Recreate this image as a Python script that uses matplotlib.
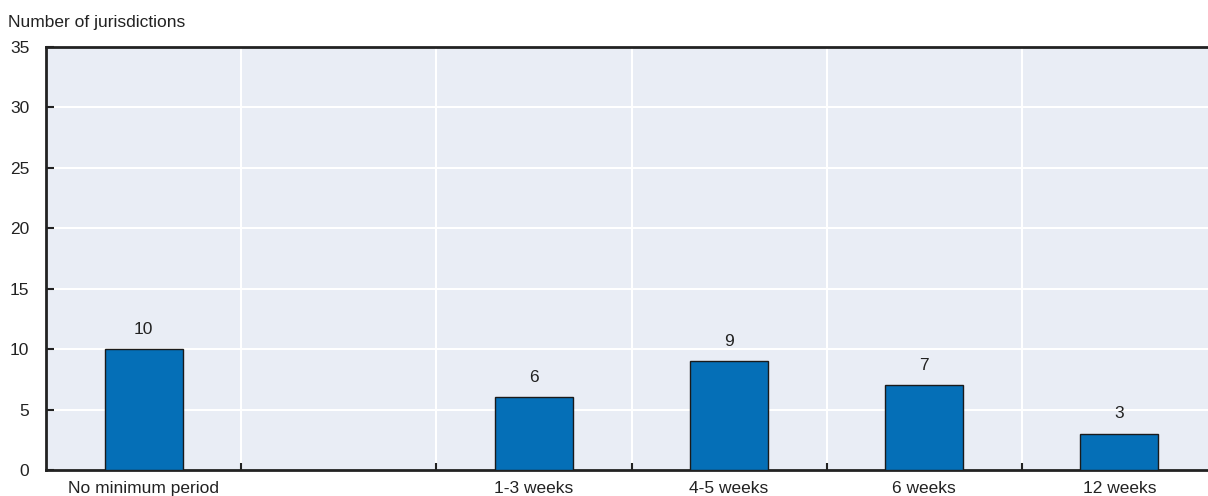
import matplotlib.pyplot as plt
import numpy as np

plt.rcParams['font.family'] = ['Liberation Sans Narrow', 'Liberation Sans', 'DejaVu Sans']

categories = ["No minimum period", "", "1-3 weeks", "4-5 weeks", "6 weeks", "12 weeks"]
counts = [10, None, 6, 9, 7, 3]
y_ticks = [0, 5, 10, 15, 20, 25, 30, 35]

bar_color = "#056fb7"
bg_color = "#e9edf5"
text_color = "#222222"

fig = plt.figure(figsize=(12.08, 4.96), dpi=100)
W, H = 1208, 496
ax = fig.add_axes([46 / W, 1 - 470 / H, (1217 - 46) / W, (470 - 47) / H])
ax.set_facecolor(bg_color)

x = np.arange(len(categories))
for xi, v in zip(x, counts):
    if v is None:
        continue
    ax.bar(xi, v, width=0.4, color=bar_color, edgecolor="#1a1a1a", linewidth=1.0, zorder=3)
    ax.annotate(str(v), (xi, v), xytext=(0, 9), textcoords="offset points",
                ha="center", va="bottom", fontsize=12.5, color=text_color)

ax.set_xlim(-0.5, len(categories) - 0.5)
ax.set_ylim(0, 35)
ax.set_yticks(y_ticks)
ax.set_yticklabels([str(t) for t in y_ticks], fontsize=12.5, color=text_color)

# category labels sit in the middle, ticks and grid on the boundaries
ax.set_xticks(x)
ax.set_xticklabels(categories, fontsize=12.5, color=text_color)
ax.tick_params(axis="x", which="major", length=0, pad=8)
ax.set_xticks(np.arange(len(categories) - 1) + 0.5, minor=True)
ax.tick_params(axis="x", which="minor", direction="in", length=5, width=1.5, color=text_color)
ax.tick_params(axis="y", direction="in", length=6, width=1.5, color=text_color, pad=12)

for b in np.arange(len(categories) - 1) + 0.5:
    ax.axvline(b, color="white", linewidth=1.5, zorder=1)
for t in y_ticks[1:-1]:
    ax.axhline(t, color="white", linewidth=1.5, zorder=1)

for side in ("left", "bottom", "top"):
    ax.spines[side].set_color(text_color)
    ax.spines[side].set_linewidth(2)
ax.spines["right"].set_visible(False)

fig.text(8 / W, 1 - 22 / H, "Number of jurisdictions", fontsize=12.5,
         ha="left", va="center", color=text_color)

fig.savefig("out.png", dpi=100)
